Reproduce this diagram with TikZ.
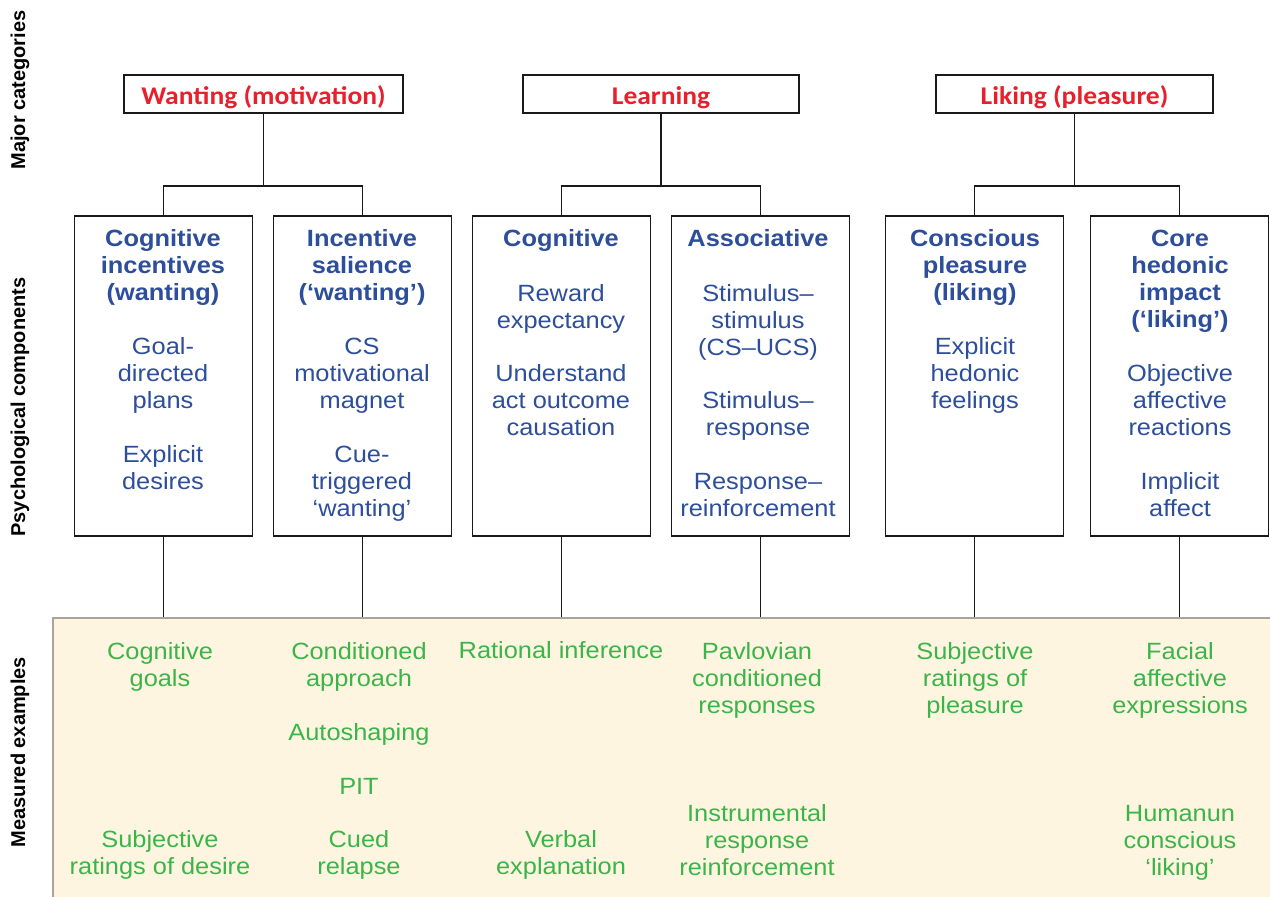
\documentclass[tikz,border=0pt]{standalone}
\usepackage{fontspec}
\setmainfont{Liberation Sans}[FakeStretch=1.08]
\newfontfamily\catfont{Carlito}[FakeStretch=1.08]
\newfontfamily\sidefont{Liberation Sans}
\definecolor{catred}{HTML}{E8202C}
\definecolor{compblue}{HTML}{2D4E9B}
\definecolor{measgreen}{HTML}{3BB54A}
\definecolor{panelfill}{HTML}{FDF5DF}
\definecolor{panelrule}{HTML}{A9A49A}
\newcommand{\hd}[1]{\textbf{#1}}
\begin{document}
\begin{tikzpicture}[x=1pt,y=-1pt,
  rule/.style={line width=1.7pt, draw=black!90},
  catbox/.style={draw=black!90, line width=1.6pt, minimum height=38pt, inner sep=0pt,
    text height=20pt, text depth=0pt,
    font=\catfont\bfseries\fontsize{25.5}{30}\selectfont, text=catred},
  compbox/.style={draw=black!90, line width=1.6pt, minimum width=178pt, minimum height=320pt, inner sep=0pt},
  panelbox/.style={draw=panelrule, fill=panelfill, line width=2pt, minimum width=1240pt, minimum height=300pt, inner sep=0pt},
  sidelabel/.style={rotate=90, font=\sidefont\bfseries\fontsize{20}{24}\selectfont, inner sep=0pt},
  txt/.style={anchor=north, inner sep=0pt, align=center, font=\fontsize{23.5}{27}\selectfont},
  comptxt/.style={txt, text=compblue},
  meastxt/.style={txt, text=measgreen}]

\useasboundingbox (0,0) rectangle (1270,897);
\fill[white] (0,0) rectangle (1270,897);

% side labels
\node[sidelabel] (lmajor) at (20,90) {Major categories};
\node[sidelabel] (lpsych) at (20,407) {Psychological components};
\node[sidelabel] (lmeas) at (20,752) {Measured examples};

% measured examples panel
\node[panelbox, anchor=north west] (panel) at (52,617) {};

% major categories
\node[catbox, minimum width=279pt] (want) at (263.5,94) {Wanting (motivation)};
\node[catbox, minimum width=276pt] (learn) at (661,94) {Learning};
\node[catbox, minimum width=277pt] (like) at (1074.5,94) {Liking (pleasure)};

% psychological components
\node[compbox] (c1) at (163.5,376) {};
\node[compbox] (c2) at (362.5,376) {};
\node[compbox] (c3) at (561.5,376) {};
\node[compbox] (c4) at (760.5,376) {};
\node[compbox] (c5) at (974.5,376) {};
\node[compbox] (c6) at (1179.5,376) {};

% tree connectors
\foreach \cat/\a/\b in {want/c1/c2, learn/c3/c4, like/c5/c6}{
  \draw[rule] (\cat.south) -- (\cat.south |- 0,187);
  \draw[rule] (\a.north) -- ++(0,-29) -| (\b.north);
}
\foreach \c in {c1,c2,c3,c4,c5,c6}{
  \draw[rule] (\c.south) -- (\c.south |- panel.north);
}

% component texts
\node[comptxt] (c1h) at (163,227) {\strut\hd{Cognitive}\\\hd{incentives}\\\hd{(wanting)}};
\node[comptxt] (c1a) at (163,335) {\strut Goal-\\directed\\plans};
\node[comptxt] (c1b) at (163,443) {\strut Explicit\\desires};

\node[comptxt] (c2h) at (362,227) {\strut\hd{Incentive}\\\hd{salience}\\\hd{(‘wanting’)}};
\node[comptxt] (c2a) at (362,335) {\strut CS\\motivational\\magnet};
\node[comptxt] (c2b) at (362,443) {\strut Cue-\\triggered\\‘wanting’};

\node[comptxt] (c3h) at (561,227) {\strut\hd{Cognitive}};
\node[comptxt] (c3a) at (561,282) {\strut Reward\\expectancy};
\node[comptxt] (c3b) at (561,362) {\strut Understand\\act outcome\\causation};

\node[comptxt] (c4h) at (758,227) {\strut\hd{Associative}};
\node[comptxt] (c4a) at (758,282) {\strut Stimulus–\\stimulus\\(CS–UCS)};
\node[comptxt] (c4b) at (758,389) {\strut Stimulus–\\response};
\node[comptxt] (c4c) at (758,470) {\strut Response–\\reinforcement};

\node[comptxt] (c5h) at (975,227) {\strut\hd{Conscious}\\\hd{pleasure}\\\hd{(liking)}};
\node[comptxt] (c5a) at (975,335) {\strut Explicit\\hedonic\\feelings};

\node[comptxt] (c6h) at (1180,227) {\strut\hd{Core}\\\hd{hedonic}\\\hd{impact}\\\hd{(‘liking’)}};
\node[comptxt] (c6a) at (1180,362) {\strut Objective\\affective\\reactions};
\node[comptxt] (c6b) at (1180,470) {\strut Implicit\\affect};

% measured examples
\node[meastxt] (m1a) at (160,640) {\strut Cognitive\\goals};
\node[meastxt] (m1b) at (160,828) {\strut Subjective\\ratings of desire};

\node[meastxt] (m2a) at (359,640) {\strut Conditioned\\approach};
\node[meastxt] (m2b) at (359,721) {\strut Autoshaping};
\node[meastxt] (m2c) at (359,775) {\strut PIT};
\node[meastxt] (m2d) at (359,828) {\strut Cued\\relapse};

\node[meastxt] (m3a) at (561,639) {\strut Rational inference};
\node[meastxt] (m3b) at (561,828) {\strut Verbal\\explanation};

\node[meastxt] (m4a) at (757,640) {\strut Pavlovian\\conditioned\\responses};
\node[meastxt] (m4b) at (757,802) {\strut Instrumental\\response\\reinforcement};

\node[meastxt] (m5a) at (975,640) {\strut Subjective\\ratings of\\pleasure};

\node[meastxt] (m6a) at (1180,640) {\strut Facial\\affective\\expressions};
\node[meastxt] (m6b) at (1180,802) {\strut Humanun\\conscious\\‘liking’};
\end{tikzpicture}
\end{document}
